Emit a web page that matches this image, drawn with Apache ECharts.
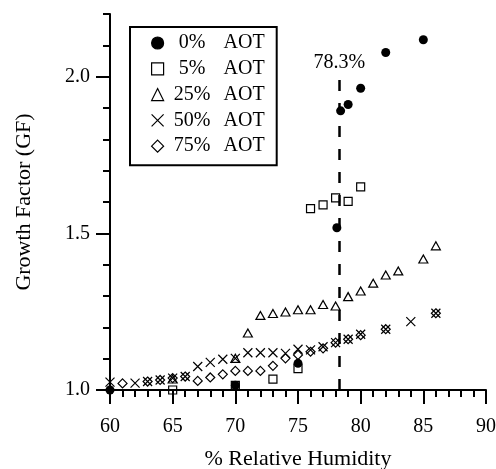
<!DOCTYPE html>
<html>
<head>
<meta charset="utf-8">
<script src="https://cdn.jsdelivr.net/npm/echarts@6/dist/echarts.min.js"></script>
<style>
html,body{margin:0;padding:0;background:#fff;}
#chart{width:496px;height:469px;}
</style>
</head>
<body>
<div id="chart"></div>
<script>
// ---- data ----
const seriesNames = ['0% AOT', '5% AOT', '25% AOT', '50% AOT', '75% AOT'];

const rh0  = [60, 70, 75, 78.1, 78.4, 79, 80, 82, 85];
const gf0  = [1.0, 1.015, 1.085, 1.518, 1.891, 1.911, 1.963, 2.077, 2.118];

const rh5  = [65, 70, 73, 75, 76, 77, 78, 79, 80];
const gf5  = [1.0, 1.015, 1.035, 1.068, 1.579, 1.591, 1.613, 1.602, 1.648];

const rh25 = [65, 70, 71, 72, 73, 74, 75, 76, 77, 78, 79, 80, 81, 82, 83, 85, 86];
const gf25 = [1.035, 1.101, 1.182, 1.238, 1.244, 1.249, 1.256, 1.256, 1.273, 1.268, 1.298, 1.316, 1.341, 1.367, 1.38, 1.418, 1.46];

const rh50 = [60, 62, 63, 64, 65, 66, 67, 68, 69, 70, 71, 72, 73, 74, 75, 76, 77, 78, 79, 80, 82, 84, 86];
const gf50 = [1.025, 1.022, 1.027, 1.032, 1.038, 1.043, 1.075, 1.088, 1.098, 1.101, 1.119, 1.119, 1.119, 1.117, 1.13, 1.128, 1.138, 1.151, 1.162, 1.178, 1.194, 1.218, 1.245];

const rh75 = [61, 63, 64, 65, 66, 67, 68, 69, 70, 71, 72, 73, 74, 75, 76, 77, 78, 79, 80, 82, 86];
const gf75 = [1.021, 1.027, 1.032, 1.038, 1.043, 1.029, 1.04, 1.05, 1.061, 1.061, 1.061, 1.077, 1.101, 1.112, 1.122, 1.133, 1.151, 1.162, 1.175, 1.194, 1.245];

const deliquescenceRH = 78.3;
const deliquescenceLabel = '78.3%';
const markLineGF = [1.0, 2.0];

const yTickLabels = [1.0, 1.5, 2.0];
const xMin = 60, xMax = 90, xStep = 5;
const yMin = 1.0, yMax = 2.2;

// ---- chart ----
const FONT = '"Liberation Serif", "Times New Roman", serif';
const zip = (xs, ys) => xs.map((x, i) => [x, ys[i]]);
const crossPath = 'path://M0,0L10,10M10,0L0,10';

const hollow = {color: 'transparent', borderColor: '#000', borderWidth: 1.2, opacity: 1};

const chart = echarts.init(document.getElementById('chart'), null, {renderer: 'canvas'});

chart.setOption({
  animation: false,
  backgroundColor: '#fff',
  grid: {left: 110, right: 10, top: 14, bottom: 79, containLabel: false, outerBoundsMode: 'none'},
  legend: {
    data: seriesNames,
    orient: 'vertical',
    left: 130,
    top: 27,
    padding: [6, 12, 9, 21],
    itemWidth: 12,
    itemHeight: 12,
    itemGap: 5.8,
    borderColor: '#000',
    borderWidth: 2,
    itemStyle: {borderWidth: 1.2, opacity: 1},
    formatter: function (name) {
      const parts = name.split(' ');
      return '{p|' + parts[0] + '}{a|' + parts[1] + '}';
    },
    textStyle: {
      rich: {
        p: {width: 47, align: 'right', fontFamily: FONT, fontSize: 20, lineHeight: 20, color: '#000'},
        a: {padding: [0, 0, 0, 8], fontFamily: FONT, fontSize: 20, lineHeight: 20, color: '#000'}
      }
    }
  },
  xAxis: {
    type: 'value',
    min: xMin, max: xMax, interval: xStep,
    name: '% Relative Humidity',
    nameLocation: 'middle',
    nameGap: 58,
    nameTextStyle: {fontFamily: FONT, fontSize: 22, color: '#000'},
    axisLine: {show: true, lineStyle: {color: '#000', width: 2}},
    axisTick: {show: true, length: 14, lineStyle: {color: '#000', width: 2}},
    minorTick: {show: true, splitNumber: 5, length: 7, lineStyle: {color: '#000', width: 2}},
    axisLabel: {margin: 27, fontFamily: FONT, fontSize: 20, color: '#000'},
    splitLine: {show: false},
    minorSplitLine: {show: false}
  },
  yAxis: [
    {
      type: 'value',
      min: yMin, max: yMax, interval: 0.1,
      name: 'Growth Factor (GF)',
      nameLocation: 'middle',
      nameGap: 75,
      nameRotate: 90,
      nameTextStyle: {fontFamily: FONT, fontSize: 22, color: '#000'},
      axisLine: {show: true, lineStyle: {color: '#000', width: 2}},
      axisTick: {show: true, length: 7, lineStyle: {color: '#000', width: 2}},
      axisLabel: {show: false},
      splitLine: {show: false}
    },
    {
      type: 'value',
      position: 'left',
      min: yMin, max: yMax,
      axisLine: {show: false},
      axisTick: {show: true, length: 14, customValues: yTickLabels, lineStyle: {color: '#000', width: 2}},
      axisLabel: {
        show: true, customValues: yTickLabels, margin: 20,
        fontFamily: FONT, fontSize: 20, color: '#000',
        formatter: v => Number(v).toFixed(1)
      },
      splitLine: {show: false}
    }
  ],
  series: [
    {
      name: seriesNames[0], type: 'scatter', z: 10,
      symbol: 'circle', symbolSize: 9,
      itemStyle: {color: '#000', borderColor: '#000', borderWidth: 0, opacity: 1},
      data: zip(rh0, gf0),
      markLine: {
        silent: true,
        symbol: ['none', 'none'],
        lineStyle: {color: '#000', width: 2.5, type: [11, 12], opacity: 1},
        label: {
          show: true, position: 'end', distance: 4,
          formatter: deliquescenceLabel,
          fontFamily: FONT, fontSize: 20, color: '#000'
        },
        data: [[{coord: [deliquescenceRH, markLineGF[0]]}, {coord: [deliquescenceRH, markLineGF[1]]}]]
      }
    },
    {
      name: seriesNames[1], type: 'scatter', z: 8,
      symbol: 'rect', symbolSize: 8,
      itemStyle: hollow,
      data: zip(rh5, gf5)
    },
    {
      name: seriesNames[2], type: 'scatter', z: 6,
      symbol: 'triangle', symbolSize: [9, 8],
      itemStyle: hollow,
      data: zip(rh25, gf25)
    },
    {
      name: seriesNames[3], type: 'scatter', z: 5,
      symbol: crossPath, symbolSize: 9,
      itemStyle: {color: 'transparent', borderColor: '#000', borderWidth: 1.2, opacity: 1},
      data: zip(rh50, gf50)
    },
    {
      name: seriesNames[4], type: 'scatter', z: 4,
      symbol: 'diamond', symbolSize: 9,
      itemStyle: hollow,
      data: zip(rh75, gf75)
    }
  ]
});
</script>
</body>
</html>
